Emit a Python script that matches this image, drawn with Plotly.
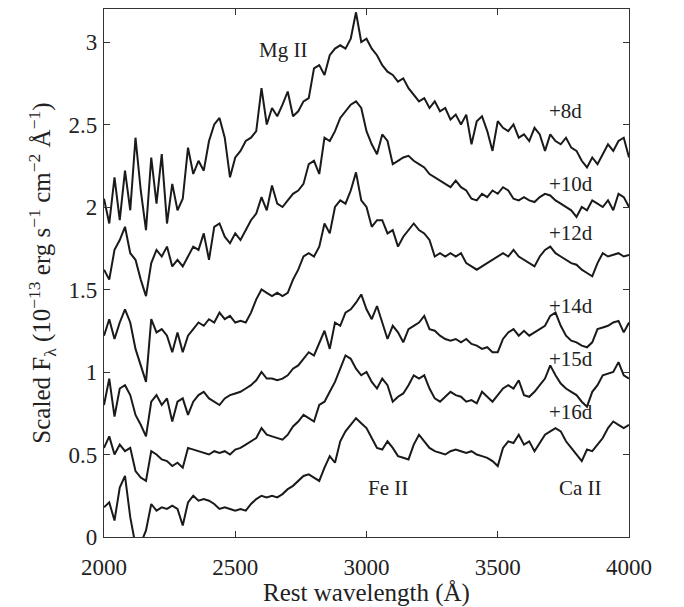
import plotly.graph_objs as go

# rest wavelength grid (Angstrom), 20 A sampling
wave = list(range(2000, 4001, 20))

flux_8d = [
    2.05, 1.90, 2.18, 1.92, 2.22, 1.98, 2.42, 2.10, 1.86, 2.30,
    2.02, 2.32, 1.90, 2.14, 1.98, 2.05, 2.36, 2.20, 2.28, 2.22,
    2.40, 2.50, 2.54, 2.42, 2.18, 2.30, 2.34, 2.40, 2.42, 2.46,
    2.72, 2.50, 2.60, 2.55, 2.62, 2.70, 2.55, 2.58, 2.64, 2.66,
    2.84, 2.86, 2.80, 2.92, 2.96, 2.98, 2.96, 3.02, 3.18, 3.00,
    3.02, 2.96, 2.92, 2.86, 2.82, 2.80, 2.76, 2.78, 2.72, 2.68,
    2.64, 2.66, 2.60, 2.64, 2.58, 2.60, 2.53, 2.56, 2.50, 2.56,
    2.38, 2.52, 2.55, 2.46, 2.34, 2.52, 2.48, 2.46, 2.50, 2.42,
    2.44, 2.40, 2.48, 2.44, 2.34, 2.44, 2.40, 2.38, 2.42, 2.36,
    2.34, 2.28, 2.24, 2.30, 2.26, 2.32, 2.38, 2.34, 2.40, 2.42,
    2.30,
]

flux_10d = [
    1.62, 1.56, 1.74, 1.80, 1.88, 1.72, 1.68, 1.56, 1.46, 1.66,
    1.74, 1.70, 1.76, 1.64, 1.68, 1.64, 1.70, 1.76, 1.74, 1.84,
    1.68, 1.88, 1.90, 1.82, 1.78, 1.84, 1.80, 1.86, 1.92, 1.96,
    2.06, 1.98, 2.13, 2.02, 2.00, 2.04, 2.08, 2.10, 2.14, 2.26,
    2.28, 2.20, 2.42, 2.40, 2.46, 2.54, 2.58, 2.62, 2.64, 2.60,
    2.46, 2.38, 2.32, 2.44, 2.40, 2.26, 2.28, 2.30, 2.31, 2.28,
    2.26, 2.24, 2.20, 2.18, 2.16, 2.14, 2.12, 2.16, 2.12, 2.10,
    2.05, 2.04, 2.08, 2.06, 2.10, 2.08, 2.12, 2.10, 2.05, 2.04,
    2.06, 2.04, 2.03, 2.06, 2.08, 2.07, 2.04, 2.02, 2.00, 1.98,
    1.94, 2.00, 1.98, 2.04, 2.02, 2.00, 2.04, 1.98, 2.08, 2.06,
    2.00,
]

flux_12d = [
    1.22, 1.32, 1.20, 1.30, 1.38, 1.30, 1.14, 1.04, 0.94, 1.32,
    1.24, 1.26, 1.22, 1.12, 1.24, 1.12, 1.22, 1.26, 1.30, 1.28,
    1.32, 1.30, 1.36, 1.32, 1.34, 1.30, 1.31, 1.30, 1.36, 1.44,
    1.50, 1.48, 1.46, 1.48, 1.46, 1.48, 1.56, 1.62, 1.70, 1.72,
    1.70, 1.76, 1.90, 1.84, 2.00, 2.04, 2.02, 2.10, 2.21, 2.04,
    2.00, 1.88, 1.92, 1.92, 1.84, 1.86, 1.76, 1.82, 1.86, 1.90,
    1.86, 1.84, 1.80, 1.70, 1.72, 1.70, 1.72, 1.70, 1.72, 1.66,
    1.64, 1.62, 1.64, 1.66, 1.68, 1.70, 1.72, 1.70, 1.74, 1.70,
    1.68, 1.66, 1.64, 1.70, 1.74, 1.76, 1.72, 1.70, 1.68, 1.66,
    1.65, 1.62, 1.60, 1.58, 1.66, 1.72, 1.70, 1.71, 1.72, 1.70,
    1.71,
]

flux_14d = [
    0.80, 0.96, 0.73, 0.90, 0.92, 0.86, 0.74, 0.68, 0.61, 0.82,
    0.86, 0.80, 0.84, 0.70, 0.82, 0.84, 0.74, 0.82, 0.86, 0.88,
    0.84, 0.82, 0.80, 0.84, 0.86, 0.87, 0.88, 0.90, 0.92, 0.95,
    1.00, 0.96, 0.96, 0.95, 0.96, 0.98, 1.02, 1.04, 1.08, 1.12,
    1.10, 1.18, 1.25, 1.14, 1.30, 1.28, 1.36, 1.38, 1.42, 1.47,
    1.38, 1.32, 1.40, 1.30, 1.20, 1.28, 1.24, 1.18, 1.26, 1.28,
    1.30, 1.34, 1.26, 1.25, 1.22, 1.20, 1.19, 1.20, 1.18, 1.20,
    1.17, 1.16, 1.14, 1.15, 1.12, 1.12, 1.20, 1.24, 1.26, 1.22,
    1.25, 1.22, 1.24, 1.26, 1.28, 1.34, 1.36, 1.28, 1.22, 1.19,
    1.18, 1.16, 1.15, 1.18, 1.26, 1.27, 1.28, 1.30, 1.31, 1.24,
    1.30,
]

flux_15d = [
    0.54, 0.61, 0.50, 0.56, 0.52, 0.54, 0.40, 0.36, 0.34, 0.52,
    0.50, 0.47, 0.46, 0.43, 0.45, 0.42, 0.54, 0.53, 0.52, 0.51,
    0.50, 0.52, 0.51, 0.52, 0.50, 0.53, 0.54, 0.56, 0.58, 0.60,
    0.66, 0.62, 0.61, 0.60, 0.59, 0.62, 0.67, 0.70, 0.74, 0.72,
    0.70, 0.80, 0.82, 0.88, 0.94, 1.02, 1.10, 1.08, 1.02, 0.98,
    1.00, 0.94, 0.90, 0.96, 0.92, 0.82, 0.85, 0.87, 0.92, 0.98,
    0.96, 0.98, 0.90, 0.84, 0.82, 0.85, 0.88, 0.86, 0.85, 0.82,
    0.83, 0.81, 0.88, 0.85, 0.82, 0.86, 0.90, 0.92, 0.90, 0.95,
    0.86, 0.85, 0.88, 0.92, 0.96, 1.04, 0.98, 0.93, 0.90, 0.88,
    0.86, 0.82, 0.79, 0.88, 0.92, 0.98, 0.99, 1.00, 1.06, 0.98,
    0.96,
]

flux_16d = [
    0.18, 0.21, 0.10, 0.30, 0.37, 0.12, -0.05, -0.04, 0.04, 0.20,
    0.16, 0.18, 0.17, 0.19, 0.17, 0.07, 0.21, 0.25, 0.22, 0.23,
    0.22, 0.20, 0.17, 0.18, 0.17, 0.16, 0.17, 0.16, 0.20, 0.23,
    0.25, 0.24, 0.25, 0.24, 0.26, 0.29, 0.31, 0.34, 0.37, 0.38,
    0.36, 0.34, 0.42, 0.49, 0.45, 0.58, 0.64, 0.68, 0.72, 0.69,
    0.66, 0.60, 0.54, 0.53, 0.58, 0.54, 0.49, 0.48, 0.47, 0.56,
    0.62, 0.58, 0.54, 0.52, 0.51, 0.50, 0.52, 0.53, 0.52, 0.51,
    0.52, 0.50, 0.49, 0.48, 0.46, 0.43, 0.54, 0.58, 0.57, 0.62,
    0.56, 0.58, 0.52, 0.57, 0.62, 0.64, 0.66, 0.64, 0.58, 0.54,
    0.50, 0.46, 0.53, 0.52, 0.56, 0.60, 0.66, 0.70, 0.68, 0.66,
    0.68,
]

epochs = ["+8d", "+10d", "+12d", "+14d", "+15d", "+16d"]
label_y = [2.58, 2.14, 1.84, 1.40, 1.08, 0.76]

lines = ["Mg II", "Fe II", "Ca II"]
line_x = [2680, 3080, 3815]
line_y = [2.95, 0.30, 0.30]

serif = "Liberation Serif, Times New Roman, serif"

data = []
for flux in [flux_8d, flux_10d, flux_12d, flux_14d, flux_15d, flux_16d]:
    data.append(go.Scatter(
        x=wave,
        y=flux,
        mode='lines',
        line=dict(color='#1a1a1a', width=2),
        showlegend=False
    ))

notes = []
for name, yy in zip(epochs, label_y):
    notes.append(dict(x=3688, y=yy, text=name, showarrow=False,
                      xanchor='left', font=dict(family=serif, size=21, color='#222')))
for name, xx, yy in zip(lines, line_x, line_y):
    notes.append(dict(x=xx, y=yy, text=name, showarrow=False,
                      font=dict(family=serif, size=21, color='#222')))

axis_style = dict(
    showline=True,
    linecolor='#333',
    linewidth=1.3,
    mirror='ticks',
    ticks='inside',
    ticklen=6,
    tickcolor='#333',
    showgrid=False,
    zeroline=False,
    tickfont=dict(family=serif, size=23, color='#222'),
)

# page body adds an 8px offset, so margins are shifted by that much
layout = go.Layout(
    width=668,
    height=599,
    margin=dict(l=96, r=47, t=0, b=67),
    paper_bgcolor='white',
    plot_bgcolor='white',
    xaxis=dict(
        range=[2000, 4000],
        tickvals=[2000, 2500, 3000, 3500, 4000],
        title=dict(text='Rest wavelength (Å)', font=dict(family=serif, size=25, color='#222'),
                   standoff=10),
        ticklabelstandoff=9,
        **axis_style
    ),
    yaxis=dict(
        range=[0, 3.2],
        tickvals=[0, 0.5, 1, 1.5, 2, 2.5, 3],
        ticktext=['0', '0.5', '1', '1.5', '2', '2.5', '3'],
        title=dict(text='Scaled F<sub>λ</sub> (10<sup>−13</sup> erg s<sup>−1</sup> cm<sup>−2</sup> Å<sup>−1</sup>)',
                   font=dict(family=serif, size=25, color='#222'), standoff=10),
        ticklabelstandoff=1,
        **axis_style
    ),
    annotations=notes,
)

fig = go.Figure(data=data, layout=layout)
fig.write_html("out.html")
